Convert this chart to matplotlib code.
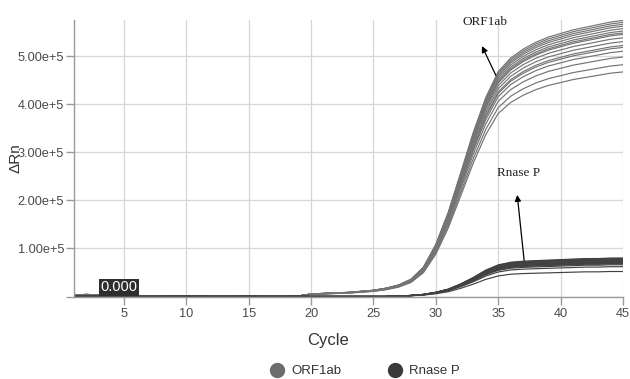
import numpy as np
import matplotlib
matplotlib.use("Agg")
import matplotlib.pyplot as plt
from matplotlib.lines import Line2D

plt.rcParams['font.family'] = ['Liberation Sans', 'DejaVu Sans']

# Amplification cycles
cycles = np.arange(1, 46)

# Mean ORF1ab amplification curve (ΔRn, units of 1e5) per cycle
orf1ab_mean = [0.03, 0.04, 0.03, 0.01, 0.01, 0.00, 0.00, 0.00, 0.01, 0.01,
               0.01, 0.00, 0.00, 0.00, 0.01, 0.00, 0.00, 0.00, 0.01, 0.05,
               0.06, 0.07, 0.08, 0.10, 0.12, 0.16, 0.22, 0.33, 0.56, 1.00,
               1.62, 2.38, 3.15, 3.82, 4.32, 4.58, 4.75, 4.88, 4.98, 5.05,
               5.12, 5.17, 5.22, 5.27, 5.30]
# ORF1ab replicate plateau values at cycle 45 (units of 1e5)
orf1ab_end = [5.74, 5.70, 5.66, 5.62, 5.57, 5.52, 5.48, 5.45, 5.38, 5.30,
              5.22, 5.18, 5.10, 4.98, 4.82, 4.67]

# Mean Rnase P amplification curve (ΔRn, units of 1e5) per cycle
rnasep_mean = [0.01, 0.01, 0.01, 0.00, 0.00, 0.00, 0.00, 0.00, 0.00, 0.00,
               0.00, 0.00, 0.00, 0.00, 0.00, 0.00, 0.00, 0.00, 0.00, 0.00,
               0.00, 0.00, 0.00, 0.00, 0.00, 0.00, 0.01, 0.02, 0.04, 0.08,
               0.14, 0.24, 0.36, 0.50, 0.60, 0.65, 0.67, 0.68, 0.69, 0.70,
               0.71, 0.72, 0.72, 0.73, 0.73]
# Rnase P replicate plateau values at cycle 45 (units of 1e5)
rnasep_end = [0.80, 0.79, 0.78, 0.77, 0.76, 0.76, 0.75, 0.74, 0.74, 0.73,
              0.72, 0.71, 0.70, 0.69, 0.68, 0.66, 0.62, 0.52]

x_ticks = [5, 10, 15, 20, 25, 30, 35, 40, 45]
y_ticks = [1e5, 2e5, 3e5, 4e5, 5e5]
y_tick_labels = ["1.00e+5", "2.00e+5", "3.00e+5", "4.00e+5", "5.00e+5"]

orf_color = "#747474"
rnase_color = "#424242"

fig = plt.figure(figsize=(6.30, 3.79), dpi=100)
ax = fig.add_axes([74 / 630, 1 - 296.5 / 379, (623 - 74) / 630, (296.5 - 20) / 379])

orf_base = np.array(orf1ab_mean) * 1e5
for end in orf1ab_end:
    ax.plot(cycles, orf_base * end / orf1ab_mean[-1], color=orf_color, lw=0.85)

rn_base = np.array(rnasep_mean) * 1e5
for end in rnasep_end:
    ax.plot(cycles, rn_base * end / rnasep_mean[-1], color=rnase_color, lw=0.85)

ax.set_xlim(1, 45)
ax.set_ylim(0, 5.75e5)
ax.set_xticks(x_ticks)
ax.set_yticks([0] + y_ticks)
ax.set_yticklabels([""] + y_tick_labels)
ax.grid(True, color="#d6d6d6", lw=0.9)
ax.set_axisbelow(True)
for side in ("top", "right"):
    ax.spines[side].set_visible(False)
for side in ("left", "bottom"):
    ax.spines[side].set_color("#9a9a9a")
    ax.spines[side].set_linewidth(1.0)
ax.tick_params(axis="both", colors="#9a9a9a", labelcolor="#4a4a4a",
               labelsize=9.2, length=5.5, width=1.0)
ax.tick_params(axis="y", pad=1.5)
ax.tick_params(axis="x", pad=3)

fig.text(328 / 630, 1 - 341 / 379, "Cycle", ha="center", va="center",
         fontsize=12, color="#333333")
fig.text(16 / 630, 1 - 158 / 379, "ΔRn", rotation=90, ha="center", va="center",
         fontsize=11, color="#333333")

# Baseline label box
ax.text(4.6, 0.19e5, "0.000", ha="center", va="center", color="white",
        fontsize=10.5, bbox=dict(boxstyle="square,pad=0.1", fc="#2e2e2e", ec="none"))

# Target annotations
ax.annotate("", xy=(33.6, 5.26e5), xytext=(34.9, 4.55e5),
            arrowprops=dict(arrowstyle="-|>", color="black", lw=0.9,
                            mutation_scale=9))
ax.text(33.9, 5.7e5, "ORF1ab", ha="center", va="center",
        family=["Liberation Serif"], fontsize=9.5, color="#222222")
ax.annotate("", xy=(36.5, 2.17e5), xytext=(37.1, 0.69e5),
            arrowprops=dict(arrowstyle="-|>", color="black", lw=0.9,
                            mutation_scale=9))
ax.text(36.6, 2.56e5, "Rnase P", ha="center", va="center",
        family=["Liberation Serif"], fontsize=9.5, color="#222222")

handles = [Line2D([], [], ls="", marker="o", ms=10, mfc="#6c6c6c", mec="#6c6c6c"),
           Line2D([], [], ls="", marker="o", ms=10, mfc="#3a3a3a", mec="#3a3a3a")]
fig.legend(handles, ["ORF1ab", "Rnase P"], loc="center",
           bbox_to_anchor=(362 / 630, 1 - 371 / 379), ncol=2, frameon=False,
           fontsize=9.5, handletextpad=0.1, columnspacing=3.0,
           labelcolor="#333333", borderpad=0.1)

fig.savefig("out.png", dpi=100, facecolor="white")
